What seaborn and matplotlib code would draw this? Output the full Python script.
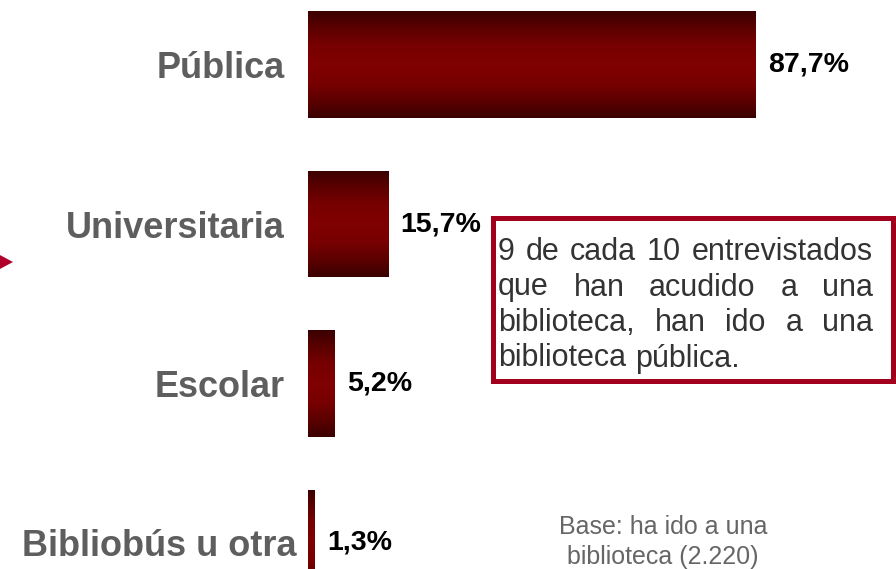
"""
Recreate a horizontal bar chart of library types visited, with gradient bars.
"""

import numpy as np
import matplotlib
matplotlib.use("Agg")
import matplotlib.pyplot as plt
import matplotlib.patches as mpatches
from matplotlib.colors import LinearSegmentedColormap
import seaborn as sns

# Data
CATEGORIES = ["Pública", "Universitaria", "Escolar", "Bibliobús u otra"]
VALUES = [87.7, 15.7, 5.2, 1.3]
NOTE_LINES = ["9 de cada 10 entrevistados",
              "que han acudido a una",
              "biblioteca, han ido a una",
              "biblioteca pública."]
BASE_TEXT = "Base: ha ido a una\nbiblioteca (2.220)"

# Styles
FIG_W, FIG_H, DPI = 896, 569, 100
LABEL_GRAY = "#5e5e5e"
NOTE_GRAY = "#333333"
BOX_RED = "#a3001e"
FONT = "Liberation Sans"


def px(x, y):
    """Figure pixel (from top-left) -> figure fraction."""
    return x / FIG_W, 1 - y / FIG_H


def gradient_bars(ax, patches, cmap):
    grad = np.abs(np.linspace(-1, 1, 256)).reshape(-1, 1)
    for p in patches:
        x0, y0 = p.get_x(), p.get_y()
        w, h = p.get_width(), p.get_height()
        p.set_facecolor("none")
        p.set_edgecolor("none")
        im = ax.imshow(grad, cmap=cmap, aspect="auto", vmin=0, vmax=1,
                       extent=(x0, x0 + w, y0 + h, y0), zorder=2,
                       interpolation="bilinear")
        im.set_clip_path(p)


def justified_text(fig, lines, left, right, y_base, step, **kw):
    renderer = fig.canvas.get_renderer()
    for i, line in enumerate(lines):
        words = line.split()
        y = y_base + i * step
        texts = [fig.text(0, px(0, y)[1], w, va="baseline", ha="left", **kw) for w in words]
        widths = [t.get_window_extent(renderer).width for t in texts]
        if i == len(lines) - 1 or len(words) == 1:
            sp = fig.text(0, 0, "a a", **kw)
            sa = fig.text(0, 0, "aa", **kw)
            gap = sp.get_window_extent(renderer).width - sa.get_window_extent(renderer).width
            sp.remove()
            sa.remove()
        else:
            gap = (right - left - sum(widths)) / (len(words) - 1)
        x = left
        for t, w in zip(texts, widths):
            t.set_x(x / FIG_W)
            x += w + gap


sns.set_theme(style="white")
plt.rcParams["font.family"] = [FONT, "DejaVu Sans"]

fig = plt.figure(figsize=(FIG_W / DPI, FIG_H / DPI), dpi=DPI)
ax = fig.add_axes([308 / FIG_W, 0, 510 / FIG_W, 1])

sns.barplot(x=VALUES, y=CATEGORIES, orient="h", ax=ax, width=0.67,
            color="#800000", zorder=2)

cmap = LinearSegmentedColormap.from_list(
    "bar", [(0, "#800000"), (0.35, "#780000"), (0.7, "#5a0000"), (1, "#3a0000")])
gradient_bars(ax, list(ax.patches), cmap)

# category centers at 64.5px + 159.5px * i
step = 159.5
ax.set_xlim(0, 100)
ax.set_ylim((FIG_H - 64.5) / step, -64.5 / step)

ax.bar_label(ax.containers[0],
             labels=[f"{v:.1f}%".replace(".", ",") for v in VALUES],
             padding=9, fontsize=20.5, fontweight="bold", color="black",
             fontfamily=FONT)

ax.set_xticks([])
ax.set_xlabel("")
ax.set_ylabel("")
ax.tick_params(axis="y", length=0, pad=17, labelsize=26, labelcolor=LABEL_GRAY)
for lab in ax.get_yticklabels():
    lab.set_fontweight("bold")
    lab.set_fontfamily(FONT)
ax.yaxis.get_major_ticks()[3].set_pad(8)
sns.despine(ax=ax, left=True, bottom=True)

# Note box
bx0, by0, bx1, by1 = 492.5, 217.5, 892.5, 380.5
fig.patches.append(mpatches.Rectangle(
    px(bx0, by1), (bx1 - bx0) / FIG_W, (by1 - by0) / FIG_H,
    transform=fig.transFigure, facecolor="white", edgecolor=BOX_RED,
    linewidth=3.6, zorder=3))
justified_text(fig, NOTE_LINES, 498, 873, 260, 35.5,
               fontsize=22, color=NOTE_GRAY, fontfamily=FONT, zorder=4)

# Base note
fig.text(*px(663, 542), BASE_TEXT, ha="center", va="center", fontsize=18,
         color="#666666", fontfamily=FONT, linespacing=1.3)

# Arrow stub at left edge
fig.patches.append(mpatches.Polygon(
    [px(-2, 254), px(13, 262), px(-2, 270)], closed=True,
    transform=fig.transFigure, facecolor="#b0002a", edgecolor="none"))

fig.savefig("out.png", dpi=DPI)
